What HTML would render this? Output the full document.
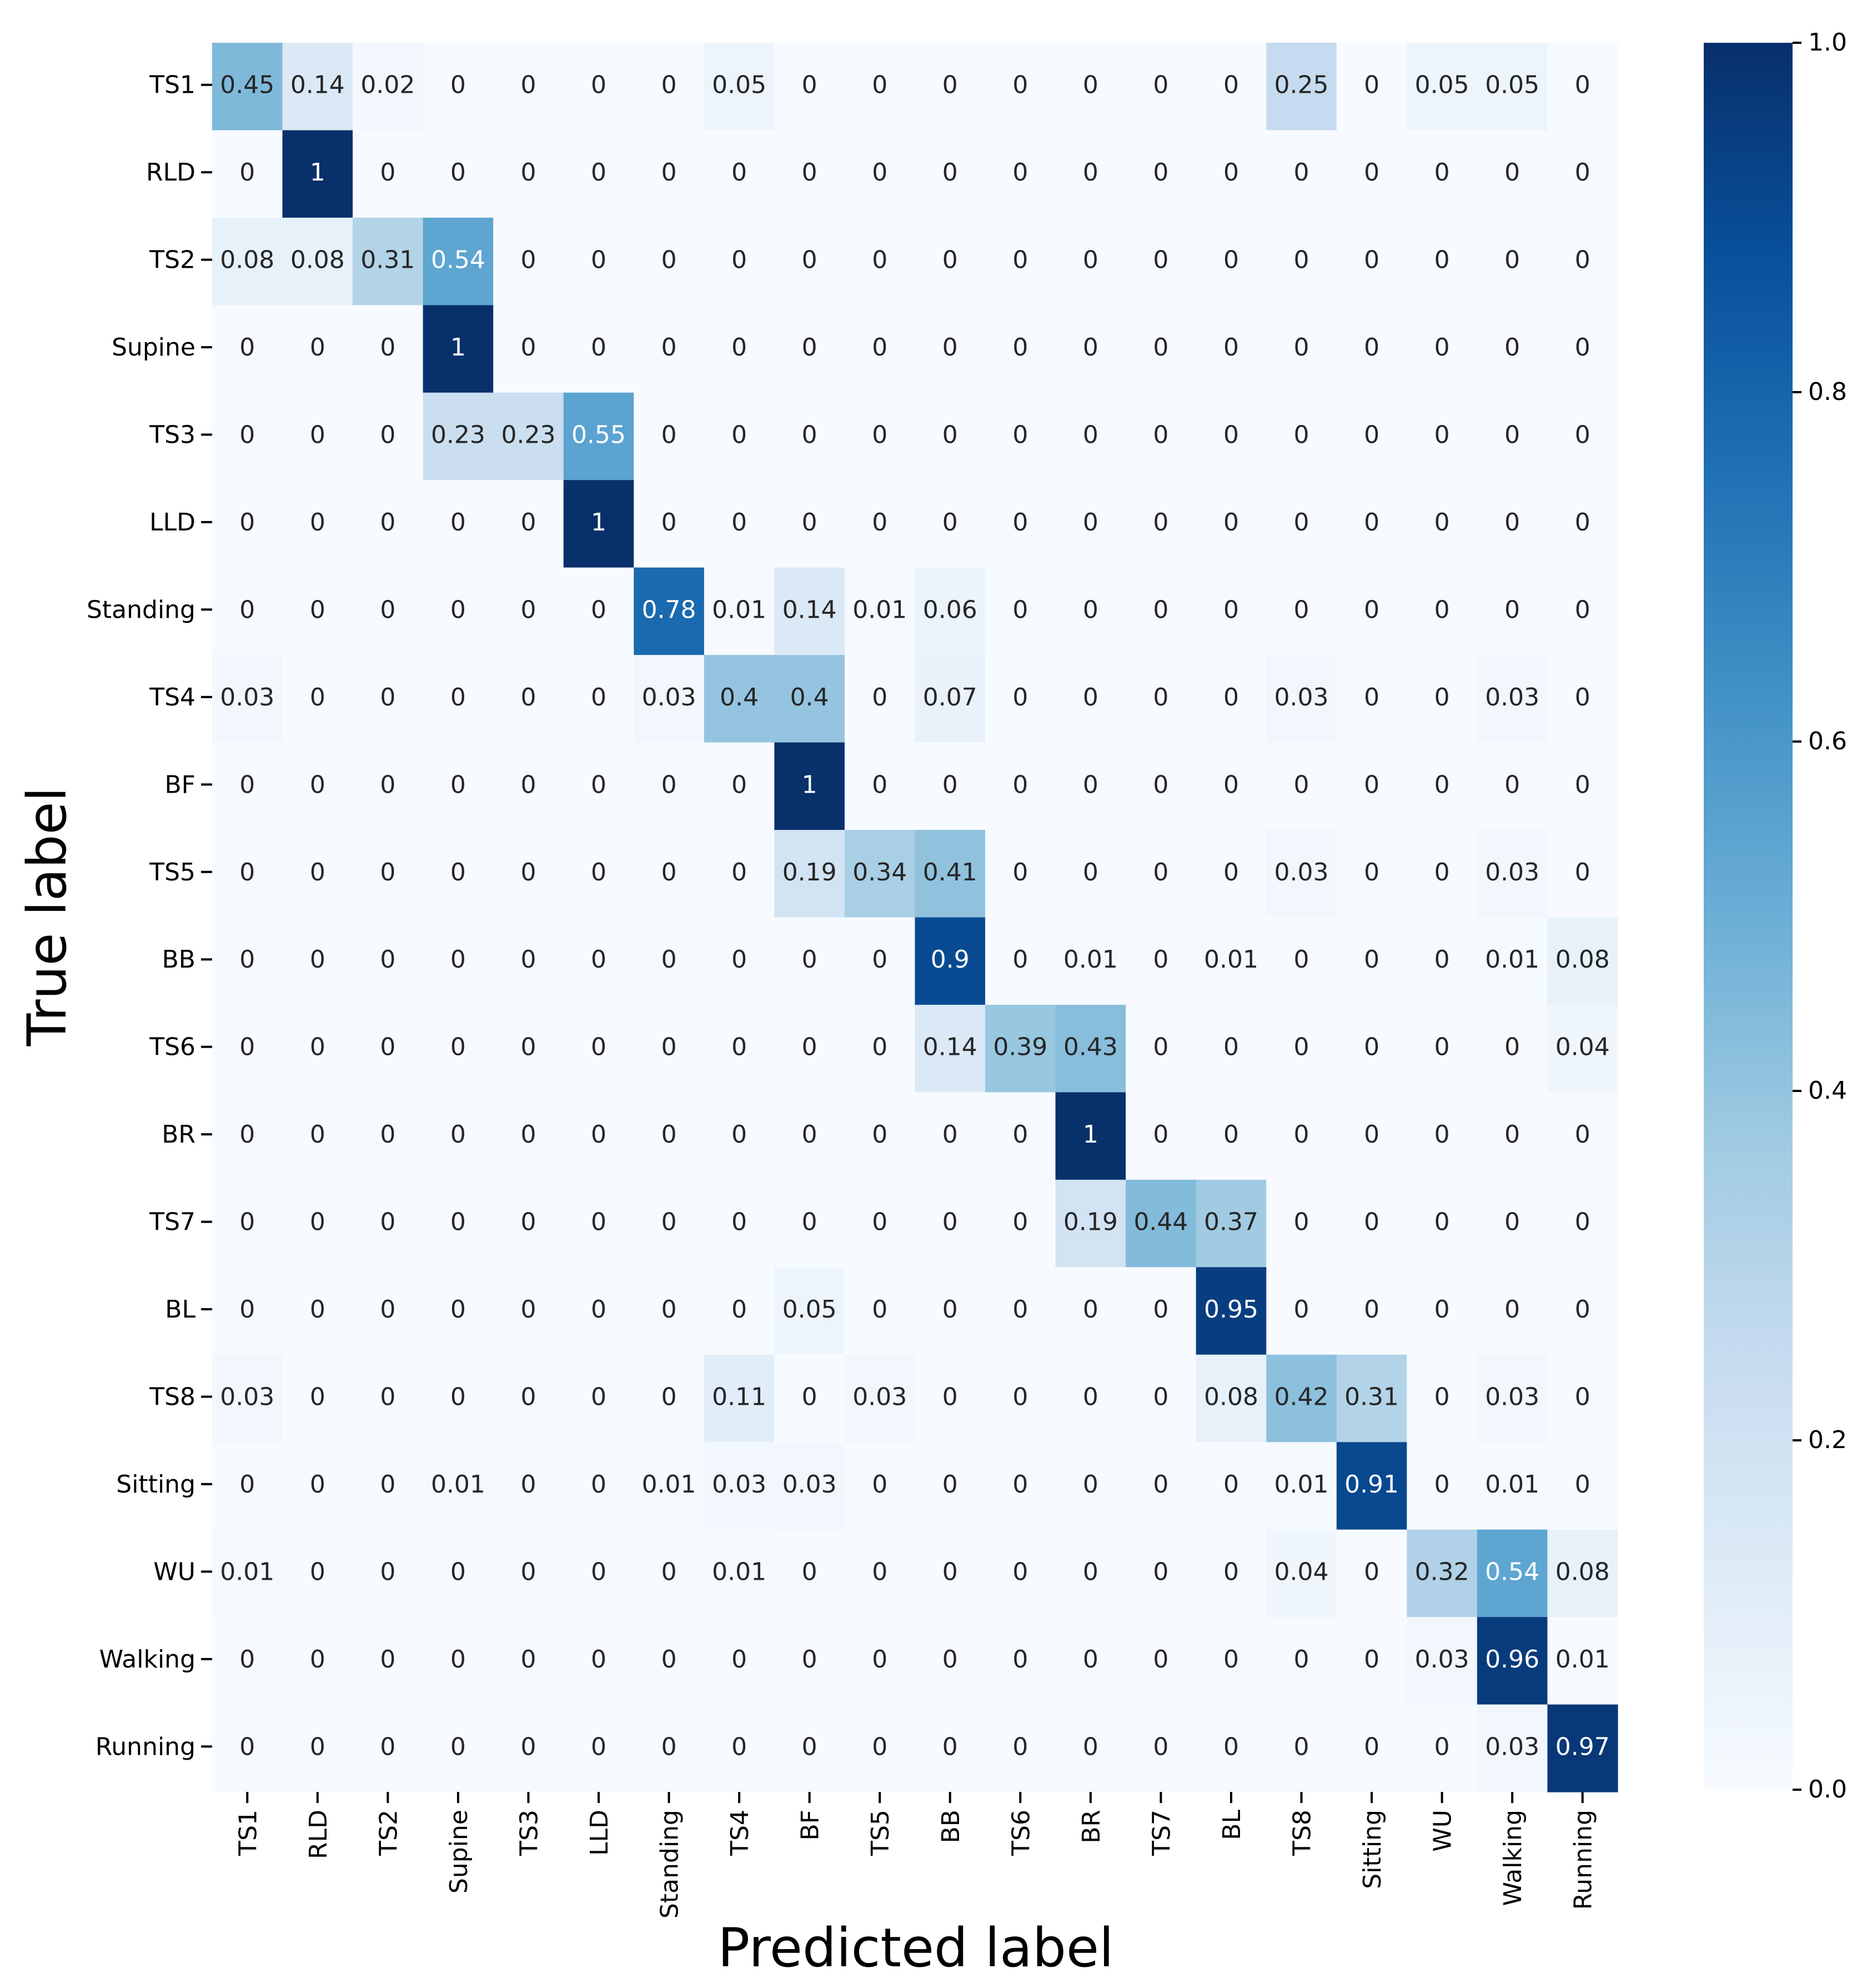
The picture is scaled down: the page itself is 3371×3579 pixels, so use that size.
<!DOCTYPE html>
<html><head><meta charset="utf-8"><style>
html,body{margin:0;padding:0;background:#fff;width:3371px;height:3579px;overflow:hidden}
svg{display:block;font-family:"DejaVu Sans","Liberation Sans",sans-serif}
</style></head><body>
<svg id="chart" width="3371" height="3579" viewBox="0 0 3371 3579" xmlns="http://www.w3.org/2000/svg">
<defs><linearGradient id="cbgrad" x1="0" y1="1" x2="0" y2="0">
<stop offset="0" stop-color="#f7fbff"/><stop offset="0.125" stop-color="#deebf7"/><stop offset="0.25" stop-color="#c6dbef"/><stop offset="0.375" stop-color="#9ecae1"/><stop offset="0.5" stop-color="#6baed6"/><stop offset="0.625" stop-color="#4292c6"/><stop offset="0.75" stop-color="#2171b5"/><stop offset="0.875" stop-color="#08519c"/><stop offset="1" stop-color="#08306b"/></linearGradient></defs>
<g id="cells"></g>
<g id="yticks"></g>
<g id="xticks"></g>
<rect x="3068" y="77" width="160" height="3145" fill="url(#cbgrad)"/>
<g id="cbticks"></g>
<text x="0" y="0" transform="translate(118,1650) rotate(-90)" text-anchor="middle" font-size="96">True label</text>
<text x="1649" y="3540" text-anchor="middle" font-size="96">Predicted label</text>
</svg>
<script>
const labels = ["TS1","RLD","TS2","Supine","TS3","LLD","Standing","TS4","BF","TS5","BB","TS6","BR","TS7","BL","TS8","Sitting","WU","Walking","Running"];
const matrix = [
[0.45,0.14,0.02,0,0,0,0,0.05,0,0,0,0,0,0,0,0.25,0,0.05,0.05,0],
[0,1,0,0,0,0,0,0,0,0,0,0,0,0,0,0,0,0,0,0],
[0.08,0.08,0.31,0.54,0,0,0,0,0,0,0,0,0,0,0,0,0,0,0,0],
[0,0,0,1,0,0,0,0,0,0,0,0,0,0,0,0,0,0,0,0],
[0,0,0,0.23,0.23,0.55,0,0,0,0,0,0,0,0,0,0,0,0,0,0],
[0,0,0,0,0,1,0,0,0,0,0,0,0,0,0,0,0,0,0,0],
[0,0,0,0,0,0,0.78,0.01,0.14,0.01,0.06,0,0,0,0,0,0,0,0,0],
[0.03,0,0,0,0,0,0.03,0.4,0.4,0,0.07,0,0,0,0,0.03,0,0,0.03,0],
[0,0,0,0,0,0,0,0,1,0,0,0,0,0,0,0,0,0,0,0],
[0,0,0,0,0,0,0,0,0.19,0.34,0.41,0,0,0,0,0.03,0,0,0.03,0],
[0,0,0,0,0,0,0,0,0,0,0.9,0,0.01,0,0.01,0,0,0,0.01,0.08],
[0,0,0,0,0,0,0,0,0,0,0.14,0.39,0.43,0,0,0,0,0,0,0.04],
[0,0,0,0,0,0,0,0,0,0,0,0,1,0,0,0,0,0,0,0],
[0,0,0,0,0,0,0,0,0,0,0,0,0.19,0.44,0.37,0,0,0,0,0],
[0,0,0,0,0,0,0,0,0.05,0,0,0,0,0,0.95,0,0,0,0,0],
[0.03,0,0,0,0,0,0,0.11,0,0.03,0,0,0,0,0.08,0.42,0.31,0,0.03,0],
[0,0,0,0.01,0,0,0.01,0.03,0.03,0,0,0,0,0,0,0.01,0.91,0,0.01,0],
[0.01,0,0,0,0,0,0,0.01,0,0,0,0,0,0,0,0.04,0,0.32,0.54,0.08],
[0,0,0,0,0,0,0,0,0,0,0,0,0,0,0,0,0,0.03,0.96,0.01],
[0,0,0,0,0,0,0,0,0,0,0,0,0,0,0,0,0,0,0.03,0.97]
];
const cbTicks = [0,0.2,0.4,0.6,0.8,1.0];
const cbTickLabels = ["0.0","0.2","0.4","0.6","0.8","1.0"];

const NS="http://www.w3.org/2000/svg";
const X0=382,X1=2913,Y0=77,Y1=3226;
const n=labels.length, cw=(X1-X0)/n, ch=(Y1-Y0)/n;
const xPos=i=>X0+i*cw, yPos=i=>Y0+i*ch;
const CB0=3222,CB1=77, cbY=v=>CB0+(CB1-CB0)*v;
const stops=["#f7fbff","#deebf7","#c6dbef","#9ecae1","#6baed6","#4292c6","#2171b5","#08519c","#08306b"].map(h=>[1,3,5].map(k=>parseInt(h.substr(k,2),16)));
function blues(v){v=Math.max(0,Math.min(1,v));const t=v*8,i=Math.min(7,Math.floor(t)),f=t-i;
 const c=stops[i].map((a,k)=>Math.round(a+(stops[i+1][k]-a)*f));return `rgb(${c[0]},${c[1]},${c[2]})`;}
function mk(tag,attrs,parent,txt){const e=document.createElementNS(NS,tag);for(const k in attrs)e.setAttribute(k,attrs[k]);if(txt!==undefined)e.textContent=txt;parent.appendChild(e);return e;}
const cells=document.getElementById('cells');
matrix.forEach((row,r)=>row.forEach((v,c)=>{
 const rc=mk('rect',{x:xPos(c),y:yPos(r),width:cw+0.6,height:ch+0.6,fill:blues(v)},cells);
 
 
 const t=mk('text',{x:xPos(c)+cw/2,y:yPos(r)+ch/2+12,'text-anchor':'middle','font-size':44,fill:v>=0.5?'#ffffff':'#262626'},cells,String(v));
 
 
}));
const yt=document.getElementById('yticks'), xt=document.getElementById('xticks');
labels.forEach((l,i)=>{
 const cy=yPos(i)+ch/2;
 mk('line',{x1:X0-20,x2:X0,y1:cy-3,y2:cy-3,stroke:'#000','stroke-width':4},yt);
 const t=mk('text',{x:X0-30,y:cy+12,'text-anchor':'end','font-size':44,fill:'#000'},yt,l);
 
 
 const cx=xPos(i)+cw/2;
 mk('line',{x1:cx,x2:cx,y1:Y1,y2:Y1+20,stroke:'#000','stroke-width':4},xt);
 const u=mk('text',{x:0,y:0,transform:`translate(${cx+16},${Y1+32}) rotate(-90)`,'text-anchor':'end','font-size':44,fill:'#000'},xt,l);
 
 
});
const cbt=document.getElementById('cbticks');
cbTicks.forEach((v,i)=>{
 const y=cbY(v);
 mk('line',{x1:3228,x2:3244,y1:y,y2:y,stroke:'#000','stroke-width':4},cbt);
 const t=mk('text',{x:3256,y:y+14,'font-size':44,fill:'#000'},cbt,cbTickLabels[i]);
 
 
});
</script>
</body></html>
